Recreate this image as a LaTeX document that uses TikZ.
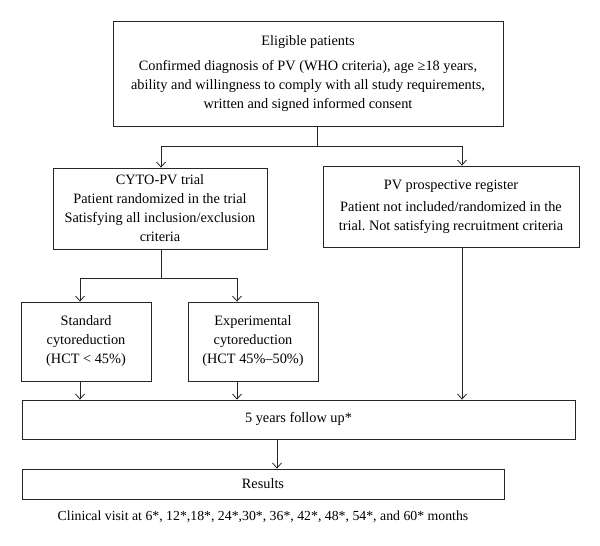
\documentclass[tikz,border=0pt]{standalone}
\usepackage{fontspec}
\setmainfont{Liberation Serif}
\usetikzlibrary{arrows.meta,positioning}
\frenchspacing

\begin{document}
\begin{tikzpicture}[x=1pt,y=-1pt,
  box/.style={draw=black!85, line width=0.8pt, align=center, inner sep=2pt,
              font=\fontsize{14.3}{19}\selectfont},
  link/.style={draw=black!85, line width=0.8pt},
  >={Straight Barb[length=5pt,width=9pt]}]
\useasboundingbox (0,0) rectangle (600,546);
\node[box, minimum width=390pt, minimum height=105pt] (elig) at (308,73.5)
  {Eligible patients\\[6pt]
   Confirmed diagnosis of PV (WHO criteria), age ≥18 years,\\
   ability and willingness to comply with all study requirements,\\
   written and signed informed consent};
\node[box, minimum width=214pt, minimum height=81pt] (cyto) at (160,208.5)
  {CYTO-PV trial\\Patient randomized in the trial\\
   Satisfying all inclusion/exclusion\\criteria};
\node[box, minimum width=256pt, minimum height=81pt] (reg) at (451,206.5)
  {PV prospective register\\[3pt]
   Patient not included/randomized in the\\
   trial. Not satisfying recruitment criteria};
\node[box, minimum width=130pt, minimum height=79pt] (std) at (86,341.5)
  {Standard\\cytoreduction\\(HCT < 45\%)};
\node[box, minimum width=130pt, minimum height=79pt] (exp) at (253,341.5)
  {Experimental\\cytoreduction\\(HCT 45\%--50\%)};
\node[box, minimum width=553pt, minimum height=39pt] (follow) at (298.5,419.5)
  {5 years follow up*};
\node[box, minimum width=482pt, minimum height=30pt] (res) at (263,484)
  {Results};
\node[font=\fontsize{13.8}{16}\selectfont] (visit) at (263,517)
  {Clinical visit at 6*, 12*,18*, 24*,30*, 36*, 42*, 48*, 54*, and 60* months};
% split points
\coordinate (s1) at (317,146);
\coordinate (s2) at (161,278);
\draw[link] (elig.south -| s1) -- (s1);
\draw[link,->] (s1) -| ([xshift=1pt]cyto.north);
\draw[link,->] (s1) -| ([xshift=11pt]reg.north);
\draw[link] (cyto.south -| s2) -- (s2);
\draw[link,->] (s2) -| ([xshift=-6pt]std.north);
\draw[link,->] (s2) -| ([xshift=-16pt]exp.north);
% into follow up
\draw[link,->] ([xshift=-6pt]std.south) -- ([xshift=-6pt]std.south |- follow.north);
\draw[link,->] ([xshift=-16pt]exp.south) -- ([xshift=-16pt]exp.south |- follow.north);
\draw[link,->] ([xshift=11pt]reg.south) -- ([xshift=11pt]reg.south |- follow.north);
\draw[link,->] ([xshift=14pt]res.north |- follow.south) -- ([xshift=14pt]res.north);
\end{tikzpicture}
\end{document}
